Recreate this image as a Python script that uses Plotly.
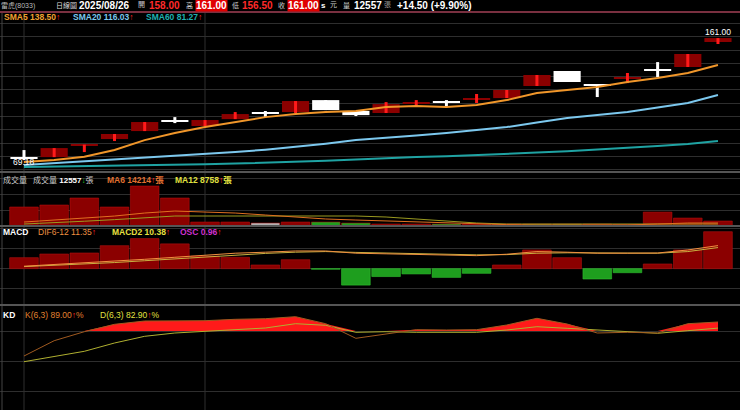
import plotly.graph_objects as go

# daily candles, 24 sessions
opens  = [71.5, 71.4, 80.0, 85.0, 91.0, 98.8, 94.8, 100.0, 104.8, 105.3, 114.3, 106.1,
          104.6, 111.7, 112.8, 114.8, 115.8, 124.9, 136.2, 125.8, 130.6, 137.2, 139.2, 158.0]
highs  = [76.7, 78.2, 80.8, 88.8, 97.8, 101.5, 99.3, 105.3, 106.1, 113.6, 114.3, 106.1,
          112.8, 114.3, 114.3, 118.9, 121.9, 133.2, 136.2, 125.8, 134.7, 142.9, 149.0, 161.0]
lows   = [69.18, 71.4, 75.2, 83.5, 91.0, 97.0, 94.8, 100.0, 101.5, 104.6, 106.8, 102.3,
          104.6, 109.8, 109.8, 112.1, 115.8, 124.9, 127.9, 116.6, 127.1, 131.6, 139.2, 156.5]
closes = [70.5, 78.2, 80.5, 88.8, 97.8, 98.2, 99.3, 103.8, 104.3, 113.6, 106.8, 103.0,
          111.3, 112.2, 112.3, 115.4, 121.9, 133.2, 127.9, 125.2, 131.2, 136.6, 149.0, 161.0]

sma5  = [67.7, 69.2, 71.7, 76.7, 84.2, 89.5, 94.0, 97.8, 101.5, 103.8, 105.3, 106.1,
         109.1, 109.8, 109.1, 110.6, 114.3, 119.6, 121.9, 124.1, 127.9, 130.9, 134.7, 140.7]
sma20 = [65.4, 66.8, 68.4, 69.9, 71.0, 72.2, 73.6, 75.2, 77.0, 79.0, 81.5, 84.2,
         85.7, 87.6, 89.5, 91.8, 94.0, 97.4, 100.8, 103.0, 105.3, 108.8, 112.1, 118.1]
sma60 = [63.9, 64.2, 64.5, 64.8, 65.2, 65.6, 66.1, 66.6, 67.1, 67.6, 68.6, 69.7,
         70.7, 71.4, 72.1, 72.9, 73.8, 74.8, 75.9, 77.1, 78.4, 79.8, 81.3, 83.5]

volume  = [47700, 52700, 70300, 47700, 100400, 70300, 10000, 10000, 7500, 10000, 10000, 7500,
           5000, 5000, 5000, 5000, 5000, 5000, 5000, 5000, 4000, 35000, 20000, 12557]
vol_dir = [1, 1, 1, 1, 1, 1, 1, 1, 0, 1, -1, -1, 1, 1, -1, 1, 1, -1, -1, 1, 1, 1, 1, 1]
vol_ma6  = [10000, 15000, 20000, 25000, 32600, 37600, 35000, 32600, 27600, 22600, 17600, 15000,
            12500, 10000, 7500, 5000, 3500, 2500, 2500, 2500, 2500, 5000, 7500, 7500]
vol_ma12 = [5000, 8000, 12000, 16000, 20000, 25100, 25100, 25100, 25100, 25100, 25100, 25100,
            22600, 17600, 12500, 7500, 5000, 5000, 5000, 5000, 5000, 5000, 5000, 5000]

osc  = [5.4, 7.2, 7.7, 11.3, 14.8, 12.2, 6.2, 5.6, 1.8, 4.4, -0.3, -8.1,
        -3.9, -2.6, -4.3, -2.3, 1.8, 9.2, 5.4, -5.1, -2.0, 2.3, 9.2, 18.2]
dif  = [1.2, 2.0, 2.8, 3.6, 4.6, 5.6, 6.6, 7.6, 8.1, 8.7, 8.7, 7.6,
        7.3, 7.1, 6.8, 6.4, 7.1, 8.4, 8.1, 7.6, 7.6, 7.7, 9.2, 11.35]
macd = [1.0, 1.6, 2.3, 3.0, 3.9, 4.8, 5.8, 6.8, 7.5, 8.1, 8.4, 8.0,
        7.7, 7.4, 7.1, 6.8, 6.9, 7.6, 7.8, 7.7, 7.6, 7.6, 8.4, 10.38]

k_val = [55.0, 70.3, 79.3, 86.7, 90.0, 90.0, 90.3, 91.7, 92.3, 94.3, 87.3, 72.7,
         77.0, 81.3, 81.0, 81.3, 86.0, 92.7, 87.0, 78.0, 78.7, 78.0, 87.3, 89.0]
d_val = [49.3, 54.5, 59.7, 68.0, 74.7, 78.0, 79.7, 81.3, 83.0, 87.3, 85.7, 78.7,
         79.3, 78.7, 78.7, 78.7, 81.0, 84.3, 82.7, 81.0, 79.3, 77.7, 80.3, 82.9]

xs = list(range(len(closes)))
W, H = 740, 410
FONT = "Liberation Sans, Noto Sans CJK TC"

def fy(py):  # pixel row -> paper y
    return 1 - py / H

fig = go.Figure()

# ---- price panel ----
up = [c >= o for o, c in zip(opens, closes)]
for flag, body_col, wick_col in [(True, "#8b0000", "#ff1a1a"), (False, "#ffffff", "#ffffff")]:
    wx, wy = [], []
    for i in xs:
        if up[i] == flag:
            wx += [i, i, None]
            wy += [lows[i], highs[i], None]
    fig.add_trace(go.Scatter(x=wx, y=wy, mode="lines", line=dict(color=wick_col, width=3),
                             yaxis="y", hoverinfo="skip"))
    bx = [i for i in xs if up[i] == flag]
    fig.add_trace(go.Bar(x=bx, base=[min(opens[i], closes[i]) for i in bx],
                         y=[max(abs(closes[i] - opens[i]), 0.9) for i in bx],
                         marker=dict(color=body_col, line=dict(width=0)), width=0.9, yaxis="y"))
for vals, col in [(sma60, "#1fa3a3"), (sma20, "#7cc8ee"), (sma5, "#f0962a")]:
    fig.add_trace(go.Scatter(x=xs, y=vals, mode="lines", line=dict(color=col, width=2), yaxis="y"))

# ---- volume panel ----
vcol = {1: "#8b0000", 0: "#b0b0b0", -1: "#1e9e1e"}
fig.add_trace(go.Bar(x=xs, y=volume, marker=dict(color=[vcol[d] for d in vol_dir],
                     line=dict(color="#c01010", width=0.5)), width=0.95, yaxis="y2"))
fig.add_trace(go.Scatter(x=xs, y=vol_ma12, mode="lines", line=dict(color="#9a9a20", width=1), yaxis="y2"))
fig.add_trace(go.Scatter(x=xs, y=vol_ma6, mode="lines", line=dict(color="#e07020", width=1), yaxis="y2"))

# ---- MACD panel ----
fig.add_trace(go.Bar(x=xs, y=osc, marker=dict(color=["#8b0000" if v >= 0 else "#1e9e1e" for v in osc],
                     line=dict(color=["#b01010" if v >= 0 else "#30c030" for v in osc], width=0.6)),
                     width=0.95, yaxis="y3"))
fig.add_trace(go.Scatter(x=xs, y=macd, mode="lines", line=dict(color="#c8b040", width=1), yaxis="y3"))
fig.add_trace(go.Scatter(x=xs, y=dif, mode="lines", line=dict(color="#f09040", width=1), yaxis="y3"))

# ---- KD panel ----
fig.add_trace(go.Scatter(x=xs, y=[80] * len(xs), mode="lines", line=dict(width=0), yaxis="y4"))
fig.add_trace(go.Scatter(x=xs, y=[max(v, 80) for v in k_val], mode="lines", line=dict(width=0),
                         fill="tonexty", fillcolor="#ff1a1a", yaxis="y4"))
fig.add_trace(go.Scatter(x=xs, y=d_val, mode="lines", line=dict(color="#b0b030", width=1), yaxis="y4"))
fig.add_trace(go.Scatter(x=xs, y=k_val, mode="lines", line=dict(color="#a05a20", width=1), yaxis="y4"))

grid = "#2e2e2e"
ax = dict(showticklabels=False, showgrid=True, gridcolor=grid, zeroline=False, fixedrange=True)
fig.update_layout(
    width=W, height=H, margin=dict(l=0, r=0, t=0, b=0),
    paper_bgcolor="#000000", plot_bgcolor="#000000", showlegend=False, barmode="overlay",
    font=dict(family=FONT, color="#ffffff", size=10),
    xaxis=dict(range=[-0.795, 23.73], showticklabels=False, showgrid=False, zeroline=False),
    yaxis=dict(domain=[fy(172), fy(12)], range=[60.2, 180.6], dtick=10, tick0=2, **ax),
    yaxis2=dict(domain=[fy(226), fy(172)], range=[0, 135600], dtick=40000, **ax),
    yaxis3=dict(domain=[fy(305), fy(226)], range=[-17.9, 21], dtick=10, tick0=0, **ax),
    yaxis4=dict(domain=[0, fy(305)], range=[1, 106], tickvals=[20, 50, 80], **ax),
)

# vertical grid lines and panel separators
for px_ in [24, 205]:
    fig.add_shape(type="line", xref="paper", yref="paper", x0=px_ / W, x1=px_ / W, y0=0, y1=fy(12),
                  line=dict(color=grid, width=1), layer="below")
fig.add_shape(type="line", xref="paper", yref="paper", x0=2 / W, x1=2 / W, y0=0, y1=fy(12),
              line=dict(color="#444", width=1))
for py, col in [(12, "#7a3040"), (172, "#555"), (226, "#555"), (305, "#555")]:
    fig.add_shape(type="line", xref="paper", yref="paper", x0=0, x1=1, y0=fy(py), y1=fy(py),
                  line=dict(color=col, width=2))

def label(x, py, text, color="#ffffff", bg=None, size=9, bold=False):
    if bold:
        text = "<b>" + text + "</b>"
    fig.add_annotation(x=x / W, y=fy(py), xref="paper", yref="paper", text=text, showarrow=False,
                       xanchor="left", yanchor="middle", font=dict(color=color, size=size, family=FONT),
                       bgcolor=bg, borderpad=0)

UP = '<span style="color:#ff2020">↑</span>'
# header
label(0, 5, "雷虎(8033)", "#bbbbbb", size=7)
label(55, 5, "日線圖", "#dddddd", size=7)
label(78, 5, "2025/08/26", bold=True, size=10)
label(137, 5, "開", "#cccccc", size=7)
label(148, 5, "158.00", "#ff2a2a", bold=True, size=10)
label(185, 5, "高", "#cccccc", size=7)
label(195, 5, "161.00", "#ffffff", bg="#e00000", bold=True, size=10)
label(231, 5, "低", "#cccccc", size=7)
label(241, 5, "156.50", "#ff2a2a", bold=True, size=10)
label(277, 5, "收", "#cccccc", size=7)
label(287, 5, "161.00", "#ffffff", bg="#e00000", bold=True, size=10)
label(320, 5, "s", "#ffffff", bold=True, size=8)
label(329, 5, "元", "#cccccc", size=7)
label(342, 5, "量", "#cccccc", size=7)
label(353, 5, "12557", bold=True, size=10)
label(383, 5, "張", "#999999", size=7)
label(396, 5, "+14.50 (+9.90%)", bold=True, size=10)

label(3, 17, "SMA5 138.50" + UP, "#f0a030", size=8.5, bold=True)
label(72, 17, "SMA20 116.03" + UP, "#7cc8ee", size=8.5, bold=True)
label(145, 17, "SMA60 81.27" + UP, "#1fb0b0", size=8.5, bold=True)
label(704, 32, "161.00", "#ffffff", size=8.5)
label(12, 162, "69.18", "#ffffff", size=8.5)

label(2, 180, "成交量", "#cccccc", size=8)
label(32, 180, "成交量 <b style='color:#fff'>12557</b><span style='color:#20c020'>↓</span>張", "#cccccc", size=8)
label(106, 180, "MA6 14214" + UP + "張", "#e07030", size=8.5, bold=True)
label(174, 180, "MA12 8758" + UP + "張", "#e0e040", size=8.5, bold=True)

label(2, 232, "MACD", "#ffffff", size=8.5, bold=True)
label(37, 232, "DIF6-12 11.35" + UP, "#f09040", size=8.5)
label(111, 232, "MACD2 10.38" + UP, "#e8e040", size=8.5, bold=True)
label(179, 232, "OSC 0.96" + UP, "#d030d0", size=8.5, bold=True)

label(2, 315, "KD", "#ffffff", size=8.5, bold=True)
label(24, 315, "K(6,3) 89.00" + UP + "%", "#e08030", size=8.5)
label(99, 315, "D(6,3) 82.90" + UP + "%", "#e0e040", size=8.5)

fig.write_html("out.html", config={"displayModeBar": False},
               post_script="document.body.style.margin='0';")
